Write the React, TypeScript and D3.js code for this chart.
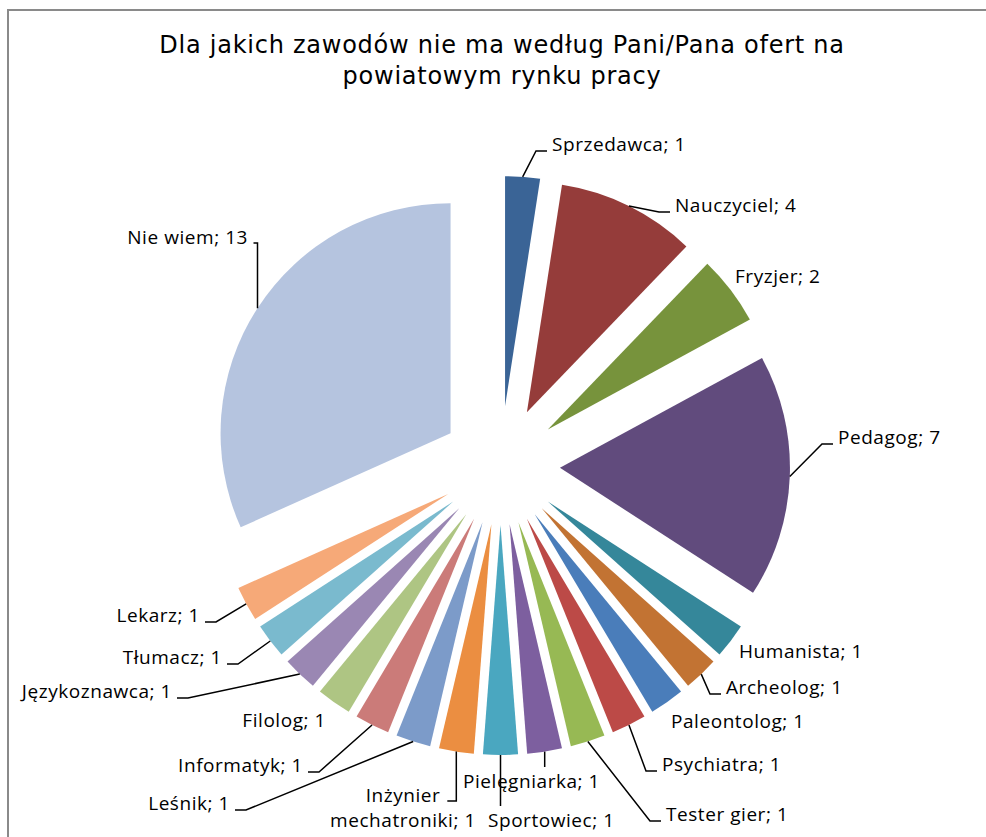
import React from 'react';
import * as d3 from 'd3';

// ---- data ----
const categories: string[] = [
  'Sprzedawca', 'Nauczyciel', 'Fryzjer', 'Pedagog', 'Humanista', 'Archeolog',
  'Paleontolog', 'Psychiatra', 'Tester gier', 'Pielęgniarka', 'Sportowiec',
  'Inżynier mechatroniki', 'Leśnik', 'Informatyk', 'Filolog', 'Językoznawca',
  'Tłumacz', 'Lekarz', 'Nie wiem',
];
const values: number[] = [1, 4, 2, 7, 1, 1, 1, 1, 1, 1, 1, 1, 1, 1, 1, 1, 1, 1, 13];
const titleLines: string[] = [
  'Dla jakich zawodów nie ma według Pani/Pana ofert na',
  'powiatowym rynku pracy',
];

// ---- styles ----
const colors: string[] = [
  '#3A6496', '#953C3A', '#77933C', '#614B7D', '#35879A', '#C27333',
  '#4A7DBA', '#BC4A47', '#97B954', '#7D5F9F', '#4AA7C0', '#EB8E41',
  '#7C9BC9', '#CB7B79', '#AEC583', '#9A87B3', '#7ABACE', '#F6A978', '#B5C4DF',
];

// ---- layout ----
const W = 986;
const H = 837;
const CX = 500.5;
const CY = 465.5;
const R = 230;
const EXPLODE = 59.5;

type Leader = 'none' | 'h' | 'v' | 'up';
interface LabelLayout { x: number; y: number; anchor: 'start' | 'end' | 'middle'; leader: Leader; hook?: number; lines?: string[] }
// label anchor positions (text x, baseline y) in page coords
const labelLayout: LabelLayout[] = [
  { x: 552, y: 151, anchor: 'start', leader: 'h' },
  { x: 675, y: 212, anchor: 'start', leader: 'h' },
  { x: 735, y: 283, anchor: 'start', leader: 'none' },
  { x: 838, y: 444, anchor: 'start', leader: 'h' },
  { x: 739, y: 658, anchor: 'start', leader: 'none' },
  { x: 726, y: 694, anchor: 'start', leader: 'h' },
  { x: 671, y: 728, anchor: 'start', leader: 'none' },
  { x: 662, y: 771, anchor: 'start', leader: 'h' },
  { x: 666, y: 821, anchor: 'start', leader: 'h' },
  { x: 463, y: 788, anchor: 'start', leader: 'up' },
  { x: 488, y: 827, anchor: 'start', leader: 'up' },
  { x: 403, y: 802, anchor: 'middle', leader: 'v', hook: 9, lines: ['Inżynier', 'mechatroniki; 1'] },
  { x: 230, y: 810, anchor: 'end', leader: 'h' },
  { x: 303, y: 772, anchor: 'end', leader: 'h' },
  { x: 326, y: 727, anchor: 'end', leader: 'none' },
  { x: 172, y: 698, anchor: 'end', leader: 'h' },
  { x: 222, y: 664, anchor: 'end', leader: 'h' },
  { x: 200, y: 622, anchor: 'end', leader: 'h' },
  { x: 248, y: 244, anchor: 'end', leader: 'v', hook: 4 },
];

const LABEL_FONT = "'Open Sans', sans-serif";
const TITLE_FONT = "'DejaVu Sans', sans-serif";

export default function App() {
  const pie = d3.pie<number>().sort(null).value((d) => d).startAngle(0).endAngle(2 * Math.PI);
  const arcs = pie(values);
  const arcGen = d3.arc<d3.PieArcDatum<number>>().innerRadius(0).outerRadius(R);

  return (
    <svg width={W} height={H} style={{ position: 'absolute', left: 0, top: 0, background: '#fff' }}>
      <rect x={0} y={0} width={W} height={H} fill="#fff" />
      <rect x={8} y={10} width={W + 20} height={H + 20} fill="none" stroke="#8a8a8a" strokeWidth={2} />
      <g fontFamily={TITLE_FONT} fontSize={24} fill="#000" textAnchor="middle" letterSpacing={0.75}>
        {titleLines.map((t, i) => (
          <text key={i} x={502} y={53 + i * 31}>{t}</text>
        ))}
      </g>
      <g>
        {arcs.map((a, i) => {
          const mid = (a.startAngle + a.endAngle) / 2;
          const dx = EXPLODE * Math.sin(mid);
          const dy = -EXPLODE * Math.cos(mid);
          return (
            <path key={i} d={arcGen(a) || ''} fill={colors[i]}
              transform={`translate(${CX + dx},${CY + dy})`} />
          );
        })}
      </g>
      <g stroke="#000" strokeWidth={1.5} fill="none">
        {arcs.map((a, i) => {
          const L = labelLayout[i];
          if (L.leader === 'none') return null;
          const mid = (a.startAngle + a.endAngle) / 2;
          const px = CX + (EXPLODE + R) * Math.sin(mid);
          const py = CY - (EXPLODE + R) * Math.cos(mid);
          let pts: [number, number][] = [];
          if (L.leader === 'h') {
            const side = L.anchor === 'start' ? -1 : 1;
            const ex = L.x + side * 5;
            const bx = ex + side * 11;
            pts = [[px, py], [bx, L.y], [ex, L.y]];
          } else if (L.leader === 'v') {
            const yy = L.y - 1;
            pts = [[px, py], [px, yy], [px - (L.hook || 0), yy]];
          } else {
            pts = [[px, py], [px, L.y - 21]];
          }
          return <polyline key={i} points={pts.map((p) => p.join(',')).join(' ')} />;
        })}
      </g>
      <g fontFamily={LABEL_FONT} fontSize={19} fill="#000" letterSpacing={0.55}>
        {arcs.map((a, i) => {
          const L = labelLayout[i];
          const lines = L.lines || [`${categories[i]}; ${values[i]}`];
          return (
            <text key={i} x={L.x} y={L.y} textAnchor={L.anchor}>
              {lines.map((ln, j) => (
                <tspan key={j} x={L.x} dy={j === 0 ? 0 : 25}>{ln}</tspan>
              ))}
            </text>
          );
        })}
      </g>
    </svg>
  );
}
